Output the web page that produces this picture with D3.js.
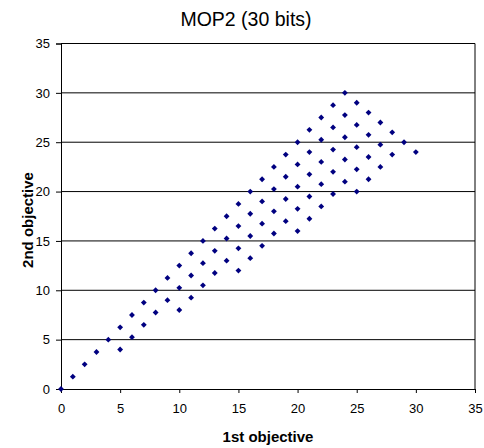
<!DOCTYPE html>
<html>
<head>
<meta charset="utf-8">
<script src="https://cdn.jsdelivr.net/npm/d3@7"></script>
<style>
    body { margin: 0; background: #fff; }
    svg { display: block; }
    text { font-family: Arial, "Liberation Sans", sans-serif; fill: #000; }
    .title { font-size: 19.5px; }
    .label { font-size: 15px; font-weight: bold; }
    .axis text { font-size: 13px; }
</style>
</head>
<body>
<svg id="chart" width="484" height="448"></svg>
<script>
// chart data - one array per diagonal row of the front, [1st objective, 2nd objective]
const chart_title = 'MOP2 (30 bits)';
const x_axis_label = '1st objective';
const y_axis_label = '2nd objective';
const x_ticks = [0, 5, 10, 15, 20, 25, 30, 35];
const y_ticks = [0, 5, 10, 15, 20, 25, 30, 35];

const row_0 = [[0, 0], [1, 1.25], [2, 2.5], [3, 3.75], [4, 5], [5, 6.25], [6, 7.5], [7, 8.75],
    [8, 10], [9, 11.25], [10, 12.5], [11, 13.75], [12, 15], [13, 16.25], [14, 17.5], [15, 18.75],
    [16, 20], [17, 21.25], [18, 22.5], [19, 23.75], [20, 25], [21, 26.25], [22, 27.5], [23, 28.75], [24, 30]];
const row_1 = [[5, 4], [6, 5.25], [7, 6.5], [8, 7.75], [9, 9], [10, 10.25], [11, 11.5], [12, 12.75],
    [13, 14], [14, 15.25], [15, 16.5], [16, 17.75], [17, 19], [18, 20.25], [19, 21.5], [20, 22.75],
    [21, 24], [22, 25.25], [23, 26.5], [24, 27.75], [25, 29]];
const row_2 = [[10, 8], [11, 9.25], [12, 10.5], [13, 11.75], [14, 13], [15, 14.25], [16, 15.5],
    [17, 16.75], [18, 18], [19, 19.25], [20, 20.5], [21, 21.75], [22, 23], [23, 24.25], [24, 25.5],
    [25, 26.75], [26, 28]];
const row_3 = [[15, 12], [16, 13.25], [17, 14.5], [18, 15.75], [19, 17], [20, 18.25], [21, 19.5],
    [22, 20.75], [23, 22], [24, 23.25], [25, 24.5], [26, 25.75], [27, 27]];
const row_4 = [[20, 16], [21, 17.25], [22, 18.5], [23, 19.75], [24, 21], [25, 22.25], [26, 23.5],
    [27, 24.75], [28, 26]];
const row_5 = [[25, 20], [26, 21.25], [27, 22.5], [28, 23.75], [29, 25]];
const row_6 = [[30, 24]];

const points = [].concat(row_0, row_1, row_2, row_3, row_4, row_5, row_6);

// layout of the plot area
const plot = {left: 61, right: 475, top: 43.5, bottom: 389};

const svg = d3.select('#chart');

const xScale = d3.scaleLinear()
    .domain([0, 35])
    .range([plot.left, plot.right]);

const yScale = d3.scaleLinear()
    .domain([0, 35])
    .range([plot.bottom, plot.top]);

// horizontal grid lines
svg.append('g')
    .selectAll('line')
    .data(y_ticks.slice(1))
    .enter()
    .append('line')
    .attr('x1', plot.left)
    .attr('x2', plot.right)
    .attr('y1', (d) => yScale(d))
    .attr('y2', (d) => yScale(d))
    .attr('stroke', '#000')
    .attr('stroke-width', 1);

// right border of the plot area
svg.append('line')
    .attr('x1', plot.right)
    .attr('x2', plot.right)
    .attr('y1', plot.top)
    .attr('y2', plot.bottom)
    .attr('stroke', '#000');

// axes
svg.append('g')
    .attr('class', 'axis')
    .attr('transform', `translate(0, ${plot.bottom})`)
    .call(d3.axisBottom(xScale).tickValues(x_ticks).tickSize(4).tickPadding(11));

svg.append('g')
    .attr('class', 'axis')
    .attr('transform', `translate(${plot.left}, 0)`)
    .call(d3.axisLeft(yScale).tickValues(y_ticks).tickSize(5).tickPadding(6));

svg.selectAll('.axis .domain').attr('stroke', '#000');
svg.selectAll('.axis .tick line').attr('stroke', '#000');
svg.selectAll('.axis text').attr('font-family', null).attr('font-size', null);

// markers
svg.append('g')
    .selectAll('path')
    .data(points)
    .enter()
    .append('path')
    .attr('d', d3.symbol().type(d3.symbolSquare).size(17))
    .attr('transform', (d) => `translate(${xScale(d[0])}, ${yScale(d[1])}) rotate(45)`)
    .attr('fill', '#000080');

// texts
svg.append('text')
    .attr('class', 'title')
    .attr('x', 246)
    .attr('y', 26)
    .attr('text-anchor', 'middle')
    .text(chart_title);

svg.append('text')
    .attr('class', 'label')
    .attr('x', 268)
    .attr('y', 442)
    .attr('text-anchor', 'middle')
    .text(x_axis_label);

svg.append('text')
    .attr('class', 'label')
    .attr('transform', 'translate(33, 220) rotate(-90)')
    .attr('text-anchor', 'middle')
    .text(y_axis_label);
</script>
</body>
</html>
